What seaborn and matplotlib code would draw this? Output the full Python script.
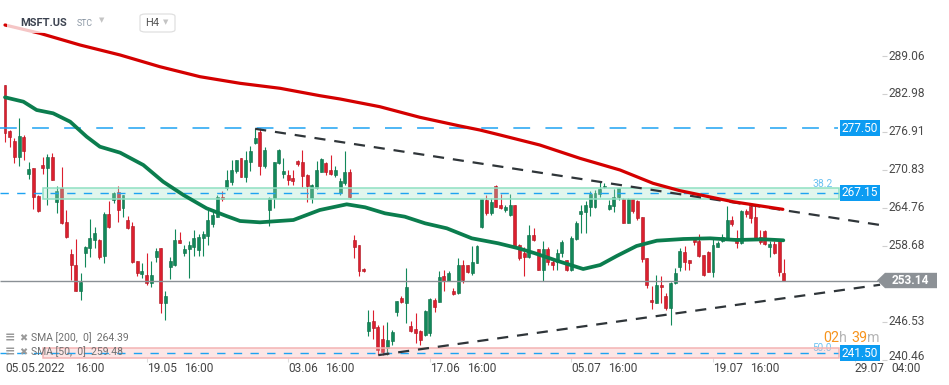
import numpy as np
import pandas as pd
import seaborn as sns
import matplotlib.pyplot as plt
from matplotlib.patches import Rectangle, Polygon, FancyBboxPatch

# MSFT.US H4 candles
opens = [284.4, 277.1, 275.46, 272.95, 276.05, 270.13, 271.09, 266.66, 271.7, 271.09,
         272.85, 265.65, 267.9, 262.5, 257.4, 255.6, 251.5, 257.6, 258.3, 259.7,
         259.7, 257.1, 263.8, 266.0, 267.3, 264.7, 262.8, 261.9, 256.2, 254.2,
         253.95, 252.7, 256.95, 258.3, 249.5, 255.35, 255.6, 259.6, 257.6, 258.1,
         258.55, 258.0, 259.95, 260.3, 262.1, 263.35, 266.55, 267.9, 268.95, 270.7,
         272.7, 269.75, 272.15, 275.1, 276.95, 271.45, 264.4, 266.3, 271.9, 270.2,
         270.0, 269.6, 272.3, 272.15, 270.0, 266.3, 267.9, 270.55, 272.0, 270.8,
         270.0, 267.1, 268.7, 270.55, 259.7, 258.8, 255.0, 245.0, 246.6, 245.75,
         243.8, 242.3, 243.5, 248.15, 250.3, 249.6, 245.9, 245.35, 245.1, 244.5,
         244.8, 250.1, 249.75, 253.85, 253.1, 251.5, 251.2, 255.6, 255.6, 254.4,
         255.9, 261.65, 266.0, 263.9, 268.3, 265.2, 264.4, 263.6, 265.2, 258.8,
         257.6, 256.85, 260.4, 258.1, 254.9, 258.1, 256.15, 256.15, 257.5, 256.4,
         254.9, 259.8, 263.8, 264.15, 264.95, 264.95, 267.0, 268.1, 264.55, 265.0,
         266.45, 266.1, 262.4, 266.1, 265.9, 263.25, 256.7, 250.1, 249.6, 252.4,
         250.65, 248.7, 252.8, 255.35, 257.75, 256.4, 259.7, 259.5, 257.2, 257.75,
         254.55, 258.55, 259.4, 259.9, 262.75, 259.9, 259.1, 264.3, 265.05, 263.35,
         260.15, 261.0, 258.45, 259.0, 259.7, 254.4]
highs = [284.5, 277.3, 275.9, 279.1, 276.4, 272.1, 271.1, 266.8, 272.85, 273.4,
         273.6, 268.25, 271.25, 264.4, 258.1, 259.8, 254.3, 258.7, 262.95, 261.75,
         259.8, 264.15, 265.85, 267.35, 268.25, 266.9, 263.45, 262.55, 256.3, 256.0,
         257.6, 256.25, 258.4, 258.4, 251.5, 256.85, 261.35, 260.85, 258.85, 259.5,
         261.2, 260.6, 261.05, 264.5, 264.4, 266.8, 267.5, 270.9, 272.4, 272.5,
         272.8, 273.9, 274.7, 277.5, 277.5, 274.55, 266.55, 272.1, 274.1, 272.7,
         270.8, 270.8, 272.5, 274.0, 270.1, 268.6, 272.3, 272.7, 272.1, 273.3,
         271.5, 269.5, 273.8, 271.05, 260.4, 258.9, 255.1, 248.5, 248.5, 246.0,
         246.1, 246.5, 245.2, 249.9, 250.7, 255.2, 246.7, 247.9, 245.2, 248.4,
         250.35, 250.35, 254.7, 254.9, 254.6, 251.9, 256.7, 256.4, 255.7, 258.65,
         258.8, 266.2, 266.8, 266.3, 268.35, 267.0, 265.3, 267.0, 265.3, 259.05,
         258.5, 262.0, 261.6, 258.2, 259.5, 258.5, 256.6, 258.2, 259.6, 256.5,
         260.3, 262.6, 265.3, 265.9, 267.5, 267.7, 268.95, 268.8, 266.0, 267.73,
         267.9, 266.3, 266.3, 266.1, 265.95, 263.3, 256.75, 252.3, 254.0, 253.9,
         251.2, 252.95, 255.1, 258.4, 258.7, 256.45, 260.15, 260.6, 257.25, 257.8,
         259.85, 259.4, 260.6, 265.0, 263.4, 261.2, 264.4, 264.6, 265.5, 265.0,
         261.3, 261.2, 259.4, 259.4, 259.75, 256.6]
lows = [275.3, 274.55, 272.0, 271.5, 272.4, 269.4, 264.6, 264.1, 270.13, 265.2,
        269.2, 263.9, 262.2, 259.95, 253.2, 251.4, 250.0, 255.35, 256.95, 258.3,
        256.6, 255.9, 261.6, 265.6, 262.55, 263.35, 261.4, 255.95, 253.85, 253.6,
        252.4, 252.05, 256.15, 248.0, 246.9, 253.4, 255.5, 259.1, 257.1, 253.6,
        257.1, 257.05, 257.1, 258.9, 261.75, 263.25, 265.85, 267.7, 268.4, 270.3,
        269.65, 268.95, 270.7, 275.0, 270.0, 271.1, 261.8, 264.7, 271.8, 269.5,
        268.4, 268.4, 271.4, 268.15, 265.7, 265.5, 267.8, 270.5, 270.0, 270.0,
        269.7, 266.9, 268.5, 266.35, 256.7, 253.9, 254.5, 244.3, 243.8, 241.2,
        241.2, 241.2, 242.9, 247.5, 249.5, 246.4, 244.9, 243.1, 242.8, 244.2,
        244.2, 248.1, 249.7, 251.5, 253.0, 250.9, 251.0, 252.7, 254.3, 254.0,
        255.9, 261.6, 263.6, 263.6, 264.9, 264.55, 264.1, 263.5, 258.45, 256.5,
        253.9, 256.7, 259.5, 254.8, 253.1, 255.6, 254.8, 254.8, 256.9, 254.7,
        254.6, 259.6, 260.8, 260.8, 263.5, 264.8, 266.55, 267.9, 264.4, 264.15,
        266.0, 262.3, 262.3, 263.9, 262.75, 256.1, 251.95, 248.6, 249.5, 249.5,
        248.4, 246.0, 252.6, 254.7, 254.9, 254.8, 258.8, 256.9, 253.8, 254.5,
        253.75, 258.55, 259.3, 259.6, 261.8, 258.3, 259.0, 263.3, 262.3, 259.8,
        259.0, 258.85, 256.9, 257.4, 253.8, 253.1]
closes = [276.8, 276.05, 272.95, 276.26, 273.9, 270.98, 266.45, 264.2, 271.09, 272.85,
          269.3, 267.4, 262.3, 260.05, 255.7, 251.5, 252.95, 258.55, 259.9, 260.7,
          256.95, 263.8, 261.75, 267.2, 264.4, 266.8, 261.6, 256.05, 254.3, 254.7,
          252.7, 253.95, 257.85, 249.6, 250.65, 256.25, 259.6, 259.2, 258.2, 258.85,
          259.9, 260.15, 260.6, 262.8, 263.55, 266.55, 266.1, 269.3, 270.9, 272.4,
          269.75, 272.4, 273.9, 275.9, 271.45, 274.0, 266.3, 272.05, 274.0, 270.7,
          269.3, 269.1, 271.8, 269.85, 268.3, 268.4, 270.8, 272.6, 270.55, 270.2,
          270.9, 269.0, 270.55, 266.45, 258.45, 254.7, 254.6, 246.5, 245.5, 242.0,
          241.75, 243.7, 244.9, 249.85, 249.65, 252.15, 245.0, 244.8, 243.6, 248.3,
          250.1, 248.85, 253.65, 253.1, 254.3, 251.0, 255.6, 253.3, 254.55, 256.15,
          258.7, 266.2, 263.9, 265.65, 264.95, 264.7, 264.85, 265.2, 258.65, 256.7,
          256.85, 260.4, 259.7, 254.9, 258.1, 256.15, 255.6, 257.5, 259.35, 254.8,
          259.9, 262.4, 264.3, 265.2, 266.95, 267.1, 267.75, 268.2, 265.2, 266.5,
          267.9, 262.4, 266.1, 264.3, 263.1, 256.55, 252.45, 249.65, 252.4, 252.05,
          248.7, 252.8, 254.3, 257.9, 256.15, 255.9, 259.35, 257.05, 254.0, 254.55,
          258.8, 259.1, 260.15, 262.75, 262.2, 259.2, 264.3, 263.85, 263.1, 259.9,
          259.35, 258.98, 259.0, 257.6, 254.55, 253.14]

# moving averages, sampled along the drawn curves (candle index, price)
sma200_idx = [0, 7.4, 15.9, 24.4, 32.8, 41.3, 49.8, 58.3, 66.7, 71.0, 79.4, 87.9,
              96.4, 100.6, 104.9, 113.3, 121.8, 130.3, 137.3, 143.0, 154.2, 164.8]
sma200_val = [294.02, 292.69, 290.82, 289.22, 287.35, 285.75, 284.69, 283.89, 282.71,
              282.18, 280.95, 279.25, 277.86, 277.22, 276.42, 274.82, 272.69, 270.82,
              268.69, 267.51, 265.75, 264.53]
sma50_idx = [0, 3.9, 6.7, 10.2, 13.8, 17.3, 20.1, 24.4, 29.3, 33.5, 37.8, 42.7, 46.9,
             49.8, 54.0, 61.1, 66.7, 72.4, 76.3, 80.5, 84.7, 89.0, 93.6, 98.9, 104.5,
             108.8, 112.3, 116.9, 122.5, 126.1, 129.6, 133.8, 138.1, 143.7, 149.4,
             155.0, 160.7, 164.9]
sma50_val = [282.45, 281.75, 280.42, 279.89, 278.55, 276.15, 274.55, 273.59, 271.62,
             268.95, 266.82, 264.69, 263.46, 262.66, 262.45, 262.82, 264.42, 265.33,
             264.85, 263.89, 263.35, 262.29, 261.49, 259.89, 259.09, 258.29, 257.49,
             256.31, 254.98, 255.62, 257.06, 258.66, 259.51, 259.78, 259.89, 259.62,
             259.73, 259.57]

upper_trend_idx = [53.0, 185.4]
upper_trend_val = [277.41, 262.02]
lower_trend_idx = [79.1, 185.4]
lower_trend_val = [241.20, 252.46]

level_high = 277.50
level_382 = 267.15
level_500 = 241.50
band_382 = (266.21, 267.89)
band_500 = (240.69, 242.29)
last_price = 253.14
sma200_last = 264.39
sma50_last = 259.48

y_ticks = [289.06, 282.98, 276.91, 270.83, 264.76, 258.68, 246.53, 240.46]
x_tick_idx = [0, 30, 60, 90, 120, 150, 180]
x_tick_dates = ["05.05.2022", "19.05", "03.06", "17.06", "05.07", "19.07", "29.07"]
x_tick_times = ["16:00", "16:00", "16:00", "16:00", "16:00", "16:00", "04:00"]

GREEN, GREEN_E = "#12885a", "#0b6c45"
RED, RED_E = "#dc1f2e", "#a8141f"
BLUE = "#1ea3f2"

sns.set_theme(style="white")
plt.rcParams['font.family'] = ['Roboto', 'DejaVu Sans']

W, H = 949, 385
fig = plt.figure(figsize=(W / 100, H / 100), dpi=100)
ax = fig.add_axes([0, 23 / H, 1, 362 / H])


def px(x):  # pixel column -> candle index
    return -1.06 + x / 4.72


def py(y):  # pixel row -> price
    return 298.02 - y / 6.25


def ftext(x, y, s, **kw):
    return fig.text(x / W, 1 - y / H, s, **kw)


df = pd.DataFrame({"open": opens, "high": highs, "low": lows, "close": closes})
df["i"] = np.arange(len(df))
up = df["close"] >= df["open"]
col = np.where(up, GREEN, RED)
ecol = np.where(up, GREEN_E, RED_E)
body_lo = df[["open", "close"]].min(axis=1)
body_h = (df["close"] - df["open"]).abs().clip(lower=0.15)

ax.vlines(df["i"], df["low"], df["high"], colors=col, lw=0.8, zorder=3)
ax.bar(df["i"], body_h, bottom=body_lo, width=0.62, color=col,
       edgecolor=ecol, linewidth=0.4, zorder=4)

# fib bands (drawn over the candles, translucent)
for (lo, hi), fc, ec in [(band_382, "#a2e5ca", "#8fe0c2"), (band_500, "#f8b2b2", "#f4b4b4")]:
    ax.add_patch(Rectangle((px(43), lo), px(839) - px(43), hi - lo, facecolor=fc,
                           alpha=0.32, edgecolor="none", zorder=5))
    ax.add_patch(Rectangle((px(43), lo), px(839) - px(43), hi - lo, facecolor="none",
                           edgecolor=ec, lw=1.1, zorder=5))

# horizontal levels
ax.hlines(level_high, px(0), px(838), colors=BLUE, lw=1.1, linestyles=(0, (11, 10)), zorder=5)
ax.hlines([level_382, level_500], px(0), px(838), colors=BLUE, lw=1.0,
          linestyles=(0, (6, 6)), zorder=5)
ax.hlines(last_price, px(0), px(878), colors="#8a9095", lw=1.0, zorder=5)

# trend lines
ax.plot(upper_trend_idx, upper_trend_val, color="#2f3539", lw=1.6, ls=(0, (5, 4)), zorder=6)
ax.plot(lower_trend_idx, lower_trend_val, color="#2f3539", lw=1.6, ls=(0, (5, 4)), zorder=6)

# SMAs
sns.lineplot(x=sma200_idx, y=sma200_val, ax=ax, color="#d40000", lw=2.3, zorder=7)
sns.lineplot(x=sma50_idx, y=sma50_val, ax=ax, color="#0b7d4e", lw=2.7, zorder=7)
ax.axis('off')
ax.set_xlim(-1.06, 200.0)
ax.set_ylim(240.10, 298.02)

# price axis
for t in y_ticks:
    yy = t if t > 241 else py(356)
    ax.hlines(t, px(882), px(887), colors="#d0d0d0", lw=0.8, clip_on=False)
    ax.text(px(889), yy, f"{t:.2f}", ha="left", va="center", fontsize=8.6,
            color="#4a4a4a", clip_on=False)

# level tags
for lvl in [level_high, level_382, level_500]:
    ax.add_patch(Rectangle((px(840), lvl - 1.3), px(880) - px(840), 2.6,
                           facecolor="#0c9cf2", edgecolor="none", zorder=8, clip_on=False))
    ax.text(px(860), lvl, f"{lvl:.2f}", ha="center", va="center", fontsize=8.6,
            color="white", zorder=9, clip_on=False)
ax.text(px(823), py(184), "38.2", ha="center", va="center", fontsize=7.5, color="#6cc2f2")
ax.text(px(822), py(348), "50.0", ha="center", va="center", fontsize=7.2, color="#6cc2f2")

ax.add_patch(Polygon([(px(877), last_price), (px(885), last_price + 1.23),
                      (px(937), last_price + 1.23), (px(937), last_price - 1.23),
                      (px(885), last_price - 1.23)], closed=True, facecolor="#8c9196",
                     edgecolor="none", zorder=8, clip_on=False))
ax.text(px(910), last_price, f"{last_price:.2f}", ha="center", va="center",
        fontsize=8.6, color="white", fontweight="bold", zorder=9, clip_on=False)

# x axis labels
for i, d, tm in zip(x_tick_idx, x_tick_dates, x_tick_times):
    x0 = 5 + 4.72 * i
    if i > 0:
        ax.vlines(i, py(358), py(362), colors="#dddddd", lw=0.8, clip_on=False)
    off = 70 if len(d) > 5 else 37
    ftext(x0, 368.5, d, ha="left", va="center", fontsize=8.6, color="#454545")
    ftext(x0 + off, 368.5, tm, ha="left", va="center", fontsize=8.6, color="#454545")

# header
fig.patches.append(Rectangle((7 / W, 1 - 33 / H), 103 / W, 21 / H, transform=fig.transFigure,
                             facecolor="white", alpha=0.78, edgecolor="none", zorder=1))
ftext(20, 22.5, "MSFT.US", ha="left", va="center", fontsize=8, fontweight="bold",
      color="#3c4350", zorder=3)
ftext(77, 24, "STC", ha="left", va="center", fontsize=6.3, color="#8a96a3", zorder=3)
ftext(99, 20.5, "▼", ha="left", va="center", fontsize=5, color="#c4c4c4",
      family=["DejaVu Sans"], zorder=3)
fig.patches.append(FancyBboxPatch((140 / W, 1 - 32 / H), 35 / W, 18 / H,
                                  boxstyle="round,pad=0,rounding_size=0.006",
                                  transform=fig.transFigure, facecolor="white",
                                  edgecolor="#e0e0e0", lw=0.9, zorder=1))
ftext(145, 23, "H4", ha="left", va="center", fontsize=8, color="#555555", zorder=3)
ftext(163, 22, "▼", ha="left", va="center", fontsize=5, color="#c4c4c4",
      family=["DejaVu Sans"], zorder=3)

# indicator legend
for yy, txt in [(338, f"SMA [200,  0]  {sma200_last:.2f}"), (352, f"SMA [50,  0]  {sma50_last:.2f}")]:
    ftext(5, yy, "≡", ha="left", va="center", fontsize=9, color="#9a9a9a",
          family=["DejaVu Sans"], fontweight="bold", zorder=3)
    ftext(19, yy, "✖", ha="left", va="center", fontsize=7, color="#9a9a9a",
          family=["DejaVu Sans"], zorder=3)
    ftext(31, yy, txt, ha="left", va="center", fontsize=7.5, color="#707070", zorder=3)

# countdown
for x0, s, c in [(823, "02", "#f7941d"), (839, "h", "#b5b5b5"),
                 (851, "39", "#f7941d"), (867, "m", "#b5b5b5")]:
    ftext(x0, 337.5, s, ha="left", va="center", fontsize=10.3, color=c, zorder=3)

fig.savefig("out.png", dpi=100)
